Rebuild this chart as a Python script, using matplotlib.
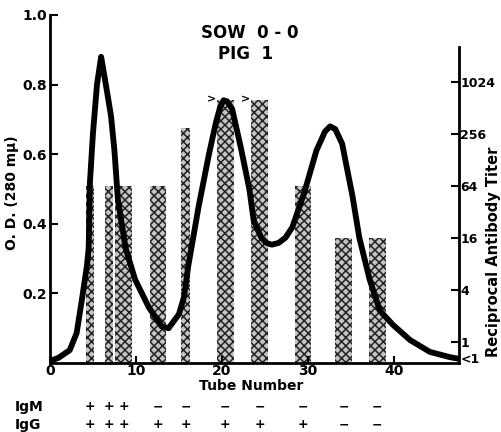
import numpy as np
import matplotlib.pyplot as plt
from matplotlib.transforms import blended_transform_factory

# O.D. 280 curve (tube number, optical density)
tube = [0, 0.35, 1.0, 2.3, 3.1, 3.7, 4.3, 4.5, 4.65, 5.0, 5.47, 5.95, 6.5, 7.1, 7.5, 7.9,
        8.8, 9.9, 11.5, 13.0, 13.8, 15.0, 15.6, 16.1, 17.3, 18.5, 19.3, 19.8, 20.2, 20.6,
        21.2, 22.2, 23.2, 23.7, 24.6, 25.2, 25.8, 26.6, 27.4, 28.2, 29.6, 31.0, 32.0,
        32.6, 33.2, 34.0, 35.2, 36.0, 37.2, 38.4, 39.9, 41.9, 44.2, 46.5, 47.6]
od = [0.0, 0.009, 0.015, 0.037, 0.086, 0.18, 0.28, 0.33, 0.52, 0.66, 0.80, 0.88, 0.80,
      0.71, 0.61, 0.47, 0.33, 0.24, 0.16, 0.105, 0.10, 0.14, 0.19, 0.28, 0.45, 0.60,
      0.69, 0.735, 0.755, 0.752, 0.73, 0.62, 0.50, 0.41, 0.36, 0.345, 0.34, 0.345,
      0.36, 0.39, 0.49, 0.61, 0.665, 0.68, 0.672, 0.63, 0.48, 0.36, 0.24, 0.15, 0.11,
      0.066, 0.032, 0.017, 0.012]

# antibody titer bars (tube fractions)
bar_center = [4.65, 6.85, 8.55, 12.55, 15.8, 20.4, 24.4, 29.45, 34.2, 38.1]
bar_width = [0.9, 0.85, 1.9, 1.9, 1.0, 2.0, 2.0, 1.9, 2.0, 2.0]
titer = [64, 64, 64, 64, 300, 640, 640, 64, 16, 16]
greater = [False, False, False, False, False, True, True, False, False, False]

igm = ['+', '+', '+', '−', '−', '−', '−', '−', '−', '−']
igg = ['+', '+', '+', '+', '+', '+', '+', '+', '−', '−']

titer_ticks = [1024, 256, 64, 16, 4, 1]

plt.rcParams['font.family'] = 'DejaVu Sans'
plt.rcParams['font.weight'] = 'bold'
plt.rcParams['hatch.linewidth'] = 1.1

fig = plt.figure(figsize=(5.02, 4.32), dpi=100)
ax = fig.add_axes([50 / 502, 69 / 432, 409 / 502, 348 / 432])
ax2 = ax.twinx()
ax.set_zorder(ax2.get_zorder() + 1)
ax.patch.set_visible(False)

# bars on the titer axis (log2 scale)
ybot = -0.808
log_t = np.log2(titer)
ax2.bar(bar_center, log_t - ybot, bottom=ybot, width=bar_width,
        facecolor='#c4c4c4', edgecolor='#222222', hatch='xxxx', linewidth=0)
for c, w, h, g in zip(bar_center, bar_width, log_t, greater):
    if g:
        ax2.text(c - w / 2 - 0.6, h, '>', ha='center', va='center', fontsize=8,
                 fontweight='bold')

ax.plot(tube, od, color='black', lw=4.2, solid_capstyle='round', solid_joinstyle='round')

ax.set_xlim(0, 47.6)
ax.set_ylim(0, 1.0)
ax2.set_ylim(ybot, 12.58)

ax.spines['top'].set_visible(False)
ax2.spines['top'].set_visible(False)
ax.spines['right'].set_visible(False)
ax2.spines['left'].set_visible(False)
ax2.spines['bottom'].set_visible(False)
ax2.spines['right'].set_bounds(ybot, 11.35)
for sp in [ax.spines['left'], ax.spines['bottom'], ax2.spines['right']]:
    sp.set_linewidth(2)

ax.set_xticks([0, 10, 20, 30, 40])
ax.set_xticklabels(['0', '10', '20', '30', '40'], fontsize=10, fontweight='bold')
ax.set_yticks([0.2, 0.4, 0.6, 0.8, 1.0])
ax.set_yticklabels(['0.2', '0.4', '0.6', '0.8', '1.0'], fontsize=10, fontweight='bold')
ax.tick_params(axis='y', direction='in', length=6, width=1.5, pad=2)
ax.tick_params(axis='x', direction='in', length=5, width=1.5, pad=1)

ax2.set_yticks(list(np.log2(titer_ticks)) + [-0.615])
ax2.set_yticklabels([str(t) for t in titer_ticks] + ['<1'], fontsize=9,
                    fontweight='bold')
ax2.tick_params(axis='y', direction='in', length=6, width=1.5, pad=1)

fig.text(251 / 502, 1 - 386 / 432, 'Tube Number', ha='center', va='center',
         fontsize=10, fontweight='bold')

ax.set_ylabel('O. D. (280 mμ)', fontsize=10, fontweight='bold')
ax.yaxis.set_label_coords(-0.075, 0.49)
fig.text(494 / 502, 1 - 252 / 432, 'Reciprocal Antibody Titer', rotation=90,
         ha='center', va='center', fontsize=10.5, fontweight='bold')

fig.text(250 / 502, 1 - 33 / 432, 'SOW  0 - 0', ha='center', va='center',
         fontsize=12, fontweight='bold')
fig.text(246 / 502, 1 - 54 / 432, 'PIG  1', ha='center', va='center',
         fontsize=12, fontweight='bold')

# IgM / IgG rows under the bars
tr = blended_transform_factory(ax.transData, fig.transFigure)
fig.text(15 / 502, 1 - 407 / 432, 'IgM', va='center', fontsize=10, fontweight='bold')
fig.text(15 / 502, 1 - 425 / 432, 'IgG', va='center', fontsize=10, fontweight='bold')
for c, m, g in zip(bar_center, igm, igg):
    ax.text(c, 1 - 407 / 432, m, transform=tr, ha='center', va='center', fontsize=9,
            fontweight='bold', clip_on=False)
    ax.text(c, 1 - 425 / 432, g, transform=tr, ha='center', va='center', fontsize=9,
            fontweight='bold', clip_on=False)

fig.savefig('out.png', dpi=100)
